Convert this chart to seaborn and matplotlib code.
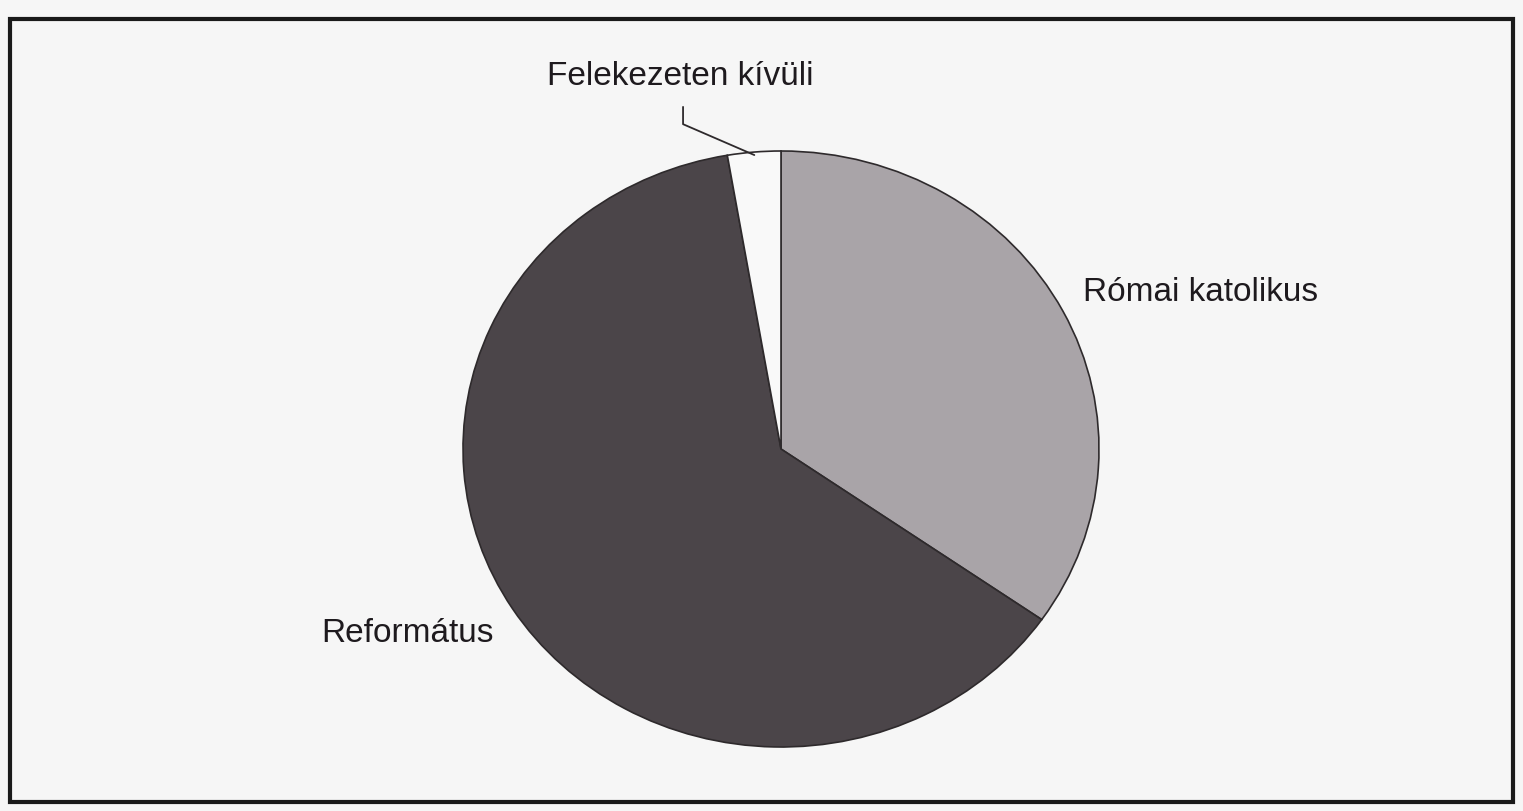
import numpy as np
import matplotlib
matplotlib.use("Agg")
import matplotlib.pyplot as plt
from matplotlib.patches import Rectangle
import seaborn as sns

# data (share of religion, %), clockwise from 12 o'clock
labels = ["Római katolikus", "Református", "Felekezeten kívüli"]
shares = [34.7, 62.6, 2.7]
colors = ["#a9a4a8", "#4b4549", "#f9f9f9"]

sns.set_theme(style="white")
plt.rcParams['font.family'] = ['Liberation Sans', 'DejaVu Sans']

fig = plt.figure(figsize=(15.23, 8.12), dpi=100)
fig.patch.set_facecolor("#f6f6f6")

# axes placed so the pie fills the scanned ellipse (slightly wider than tall)
W, H = 1523, 812
ax = fig.add_axes([463 / W, (H - 748) / H, 636 / W, 596 / H])
wedges, _ = ax.pie(shares, colors=colors, startangle=90, counterclock=False,
                   wedgeprops=dict(edgecolor="#2e2a2c", linewidth=1.2))
ax.set_aspect("auto")
ax.set_xlim(-1, 1)
ax.set_ylim(-1, 1)
ax.patch.set_alpha(0)

# labels
ax.text(1.318, 0.53, labels[0], fontsize=24, ha="center", va="center", color="#1e1a1e")
ax.text(-1.173, -0.615, labels[1], fontsize=24, ha="center", va="center", color="#1e1a1e")

# small slice: label above with elbow leader line to its edge
w = wedges[2]
mid = np.deg2rad((w.theta1 + w.theta2) / 2)
ex, ey = np.cos(mid) * 0.99, np.sin(mid) * 0.99
ax.text(-0.318, 1.255, labels[2], fontsize=24, ha="center", va="center", color="#1e1a1e")
ax.plot([-0.308, -0.308, ex], [1.148, 1.09, ey], color="#2e2a2c", lw=1.3, clip_on=False)

# scanned frame
fig.patches.append(Rectangle((10 / W, (H - 803) / H), 1503 / W, 783 / H,
                             transform=fig.transFigure, fill=False,
                             edgecolor="#1a1a1a", linewidth=3))

fig.savefig("out.png", dpi=100, facecolor=fig.get_facecolor())
